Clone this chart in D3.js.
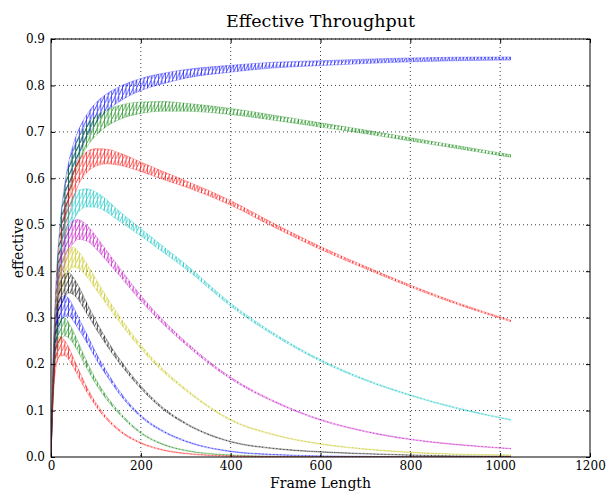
<!DOCTYPE html>
<html>
<head>
<meta charset="utf-8">
<script src="https://cdn.jsdelivr.net/npm/d3@7"></script>
<style>
  body { margin: 0; background: #fff; }
  svg { display: block; }
  text { font-family: "DejaVu Serif", serif; fill: #000; }
</style>
</head>
<body>
<div id="chart"></div>
<script>
const frameLength = [0, 5, 10, 20, 30, 40, 50, 60, 80, 100, 125, 150, 200, 250, 300, 400, 500, 600, 700, 800, 900, 1024];
// relative depth of the sawtooth (padding teeth) at each frame length
const toothDepth = [0.34, 0.27, 0.23, 0.17, 0.136, 0.113, 0.097, 0.085, 0.068, 0.057, 0.047, 0.04, 0.031, 0.026, 0.021, 0.016, 0.013, 0.011, 0.0094, 0.0083, 0.0074, 0.0065];

// effective throughput, band centre, one array per curve (top to bottom)
const blue1   = [0, 0.19, 0.312, 0.46, 0.546, 0.603, 0.643, 0.672, 0.713, 0.741, 0.764, 0.78, 0.802, 0.815, 0.825, 0.836, 0.844, 0.848, 0.852, 0.855, 0.857, 0.858];
const green1  = [0, 0.187, 0.308, 0.452, 0.536, 0.59, 0.627, 0.655, 0.692, 0.713, 0.73, 0.741, 0.752, 0.755, 0.753, 0.744, 0.73, 0.715, 0.7, 0.684, 0.668, 0.648];
const red1    = [0, 0.18, 0.295, 0.425, 0.5, 0.55, 0.585, 0.61, 0.635, 0.645, 0.647, 0.642, 0.625, 0.606, 0.588, 0.547, 0.497, 0.45, 0.408, 0.368, 0.332, 0.293];
const cyan1   = [0, 0.178, 0.285, 0.405, 0.47, 0.51, 0.535, 0.55, 0.558, 0.554, 0.54, 0.52, 0.484, 0.447, 0.41, 0.328, 0.262, 0.208, 0.166, 0.133, 0.106, 0.08];
const magenta1 = [0, 0.175, 0.278, 0.385, 0.44, 0.47, 0.485, 0.49, 0.482, 0.462, 0.432, 0.402, 0.342, 0.29, 0.245, 0.17, 0.118, 0.08, 0.055, 0.038, 0.027, 0.018];
const yellow1 = [0, 0.17, 0.27, 0.365, 0.405, 0.425, 0.43, 0.425, 0.402, 0.372, 0.335, 0.3, 0.237, 0.186, 0.145, 0.08, 0.047, 0.028, 0.017, 0.01, 0.006, 0.004];
const black1  = [0, 0.165, 0.258, 0.338, 0.368, 0.375, 0.368, 0.355, 0.32, 0.285, 0.245, 0.21, 0.15, 0.104, 0.072, 0.033, 0.018, 0.011, 0.007, 0.004, 0.002, 0.001];
const blue2   = [0, 0.16, 0.245, 0.31, 0.325, 0.322, 0.308, 0.29, 0.255, 0.218, 0.178, 0.142, 0.088, 0.055, 0.034, 0.012, 0.005, 0.002, 0.001, 0, 0, 0];
const green2  = [0, 0.152, 0.228, 0.272, 0.28, 0.272, 0.257, 0.238, 0.198, 0.162, 0.126, 0.097, 0.052, 0.027, 0.014, 0.004, 0.001, 0, 0, 0, 0, 0];
const red2    = [0, 0.143, 0.21, 0.238, 0.235, 0.222, 0.203, 0.183, 0.145, 0.113, 0.082, 0.059, 0.03, 0.015, 0.0075, 0.002, 0.0005, 0, 0, 0, 0, 0];

const seriesList = [blue1, green1, red1, cyan1, magenta1, yellow1, black1, blue2, green2, red2];
const seriesColors = ["#0000ff", "#008000", "#ff0000", "#00bfbf", "#bf00bf", "#bfbf00", "#000000", "#0000ff", "#008000", "#ff0000"];

const xTicks = [0, 200, 400, 600, 800, 1000, 1200];
const yTicks = [0, 0.1, 0.2, 0.3, 0.4, 0.5, 0.6, 0.7, 0.8, 0.9];
const blockSize = 8;

var width = 607;
var height = 492;
var margin = {top: 39, right: 17, bottom: 35, left: 51};
var w = width - margin.left - margin.right;
var h = height - margin.top - margin.bottom;

var svg = d3.select("#chart").append("svg")
    .attr("width", width)
    .attr("height", height);

var xScale = d3.scaleLinear().domain([0, 1200]).range([0, w]);
var yScale = d3.scaleLinear().domain([0, 0.9]).range([h, 0]);

var defs = svg.append("defs");
defs.append("clipPath").attr("id", "plot-clip")
    .append("rect").attr("width", w).attr("height", h);

// one hatch pattern per curve to mimic the dense sawtooth
var tw = xScale(blockSize) - xScale(0);
var th = 8;
seriesColors.forEach(function(c, i) {
    var p = defs.append("pattern")
        .attr("id", "teeth-" + i)
        .attr("patternUnits", "userSpaceOnUse")
        .attr("width", tw)
        .attr("height", th);
    p.append("path")
        .attr("d", "M0," + th + "L" + tw + ",0M" + (tw - 0.35) + ",0V" + th)
        .attr("stroke", c)
        .attr("stroke-width", 0.7)
        .attr("fill", "none");
});

var g = svg.append("g")
    .attr("transform", "translate(" + margin.left + "," + margin.top + ")");

// grid
g.append("g").selectAll("line")
    .data(xTicks.slice(1, -1))
    .enter().append("line")
    .attr("x1", d => xScale(d)).attr("x2", d => xScale(d))
    .attr("y1", 0).attr("y2", h)
    .attr("stroke", "#000").attr("stroke-width", 1)
    .attr("stroke-dasharray", "1,3").attr("opacity", 0.75);
g.append("g").selectAll("line")
    .data(yTicks.slice(1))
    .enter().append("line")
    .attr("y1", d => yScale(d)).attr("y2", d => yScale(d))
    .attr("x1", 0).attr("x2", w)
    .attr("stroke", "#000").attr("stroke-width", 1)
    .attr("stroke-dasharray", "1,3").attr("opacity", 0.75);

// curves
var curves = g.append("g").attr("clip-path", "url(#plot-clip)");
seriesList.forEach(function(values, s) {
    var idx = d3.range(frameLength.length);
    var up = i => yScale(values[i] * (1 + toothDepth[i] / 2)) - 0.3;
    var lo = i => yScale(values[i] * (1 - toothDepth[i] / 2)) + 0.3;
    var area = d3.area()
        .x(i => xScale(frameLength[i]))
        .y0(lo).y1(up)
        .curve(d3.curveMonotoneX);
    curves.append("path")
        .attr("d", area(idx))
        .attr("fill", "url(#teeth-" + s + ")");
    [up, lo].forEach(function(fy) {
        curves.append("path")
            .attr("d", d3.line().x(i => xScale(frameLength[i])).y(fy).curve(d3.curveMonotoneX)(idx))
            .attr("fill", "none")
            .attr("stroke", seriesColors[s])
            .attr("stroke-width", 0.6)
            .attr("opacity", 0.45);
    });
});

// axes: classic style, ticks inside on all four sides
var xAxisB = d3.axisBottom(xScale).tickValues(xTicks).tickSizeInner(-4).tickSizeOuter(0).tickPadding(4).tickFormat(d3.format("d"));
var xAxisT = d3.axisTop(xScale).tickValues(xTicks).tickSizeInner(-4).tickSizeOuter(0).tickFormat("");
var yAxisL = d3.axisLeft(yScale).tickValues(yTicks).tickSizeInner(-4).tickSizeOuter(0).tickPadding(6).tickFormat(d3.format(".1f"));
var yAxisR = d3.axisRight(yScale).tickValues(yTicks).tickSizeInner(-4).tickSizeOuter(0).tickFormat("");

g.append("g").attr("transform", "translate(0," + h + ")").call(xAxisB);
g.append("g").call(xAxisT);
g.append("g").call(yAxisL);
g.append("g").attr("transform", "translate(" + w + ",0)").call(yAxisR);

g.selectAll(".domain").remove();
g.selectAll(".tick line").attr("stroke", "#000");
g.selectAll(".tick text").style("font-size", "12px").style("font-family", "DejaVu Serif, serif");

g.append("rect")
    .attr("width", w).attr("height", h)
    .attr("fill", "none").attr("stroke", "#000").attr("stroke-width", 1);

// title and labels
svg.append("text")
    .attr("x", margin.left + w / 2).attr("y", 27)
    .attr("text-anchor", "middle")
    .style("font-size", "17.5px")
    .text("Effective Throughput");

svg.append("text")
    .attr("x", margin.left + w / 2).attr("y", 488)
    .attr("text-anchor", "middle")
    .style("font-size", "14px")
    .text("Frame Length");

svg.append("text")
    .attr("transform", "translate(23," + (margin.top + h / 2) + ") rotate(-90)")
    .attr("text-anchor", "middle")
    .style("font-size", "14px")
    .text("effective");
</script>
</body>
</html>
